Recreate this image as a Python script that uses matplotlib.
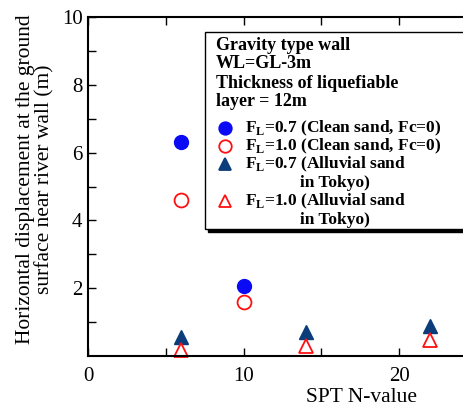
import matplotlib
matplotlib.use("Agg")
import matplotlib.pyplot as plt
from matplotlib.patches import Rectangle
from matplotlib.lines import Line2D

plt.rcParams['font.family'] = ['Liberation Serif', 'DejaVu Serif']
plt.rcParams['mathtext.fontset'] = 'custom'
plt.rcParams['mathtext.rm'] = 'Liberation Serif'
plt.rcParams['mathtext.bf'] = 'Liberation Serif:bold'

# data
clean_x = [6, 10]
clean_fl07 = [6.31, 2.06]
clean_fl10 = [4.60, 1.59]
tokyo_x = [6, 14, 22]
tokyo_fl07 = [0.56, 0.71, 0.88]
tokyo_fl10 = [0.18, 0.30, 0.47]
x_ticks = [0, 10, 20]
y_ticks = [2, 4, 6, 8, 10]

W, H = 464, 408
fig = plt.figure(figsize=(W/100, H/100), dpi=100)
ax_l, ax_r, ax_b, ax_t = 88, 634, 356, 17
ax = fig.add_axes([ax_l/W, 1-ax_b/H, (ax_r-ax_l)/W, (ax_b-ax_t)/H])
ax.set_xlim(0, 35.1)
ax.set_ylim(0, 10)

def fx(x): return x / W
def fy(y): return 1 - y / H

blue = '#0a0af5'
navy = '#0a3d7a'
red = '#ff1010'
ms = 10
ax.plot(clean_x, clean_fl07, 'o', color=blue, ms=ms, mec=blue, clip_on=False)
ax.plot(clean_x, clean_fl10, 'o', mfc='none', mec=red, ms=ms, mew=1.3, clip_on=False)
ax.plot(tokyo_x, tokyo_fl07, '^', color=navy, ms=ms, clip_on=False)
ax.plot(tokyo_x, tokyo_fl10, '^', mfc='none', mec=red, ms=ms, mew=1.3, clip_on=False)

ax.set_yticks(y_ticks)
ax.set_yticks([1, 3, 5, 7, 9], minor=True)
ax.set_xticks(x_ticks)
ax.set_xticks([5, 15, 25], minor=True)
ax.tick_params(which='both', direction='in', top=True, right=True, length=6, width=1,
               labelsize=15)
ax.tick_params(axis='x', pad=8)
ax.tick_params(axis='y', pad=4)
for s in ax.spines.values():
    s.set_linewidth(1.5)

fig.text(fx(35), fy(179), 'Horizontal displacement at the ground\nsurface near river wall (m)',
         fontsize=15.5, rotation=90, ha='center', va='center', multialignment='center',
         linespacing=1.0)
fig.text(fx(361), fy(397), 'SPT N-value', fontsize=15.5, ha='center', va='center')

bx0, by0, bx1, by1 = 205, 32, 480, 229
shadow = Rectangle((fx(bx0+3), fy(by1+3)), fx(bx1-bx0), (by1-by0)/H,
                   transform=fig.transFigure, facecolor='black', edgecolor='black', zorder=5)
box = Rectangle((fx(bx0), fy(by1)), fx(bx1-bx0), (by1-by0)/H,
                transform=fig.transFigure, facecolor='white', edgecolor='black', lw=1.0, zorder=6)
fig.patches.extend([shadow, box])

fs = 12.5
for txt, y in [('Gravity type wall', 46), ('WL=GL-3m', 64),
               ('Thickness of liquefiable', 83), ('layer = 12m', 101)]:
    fig.text(fx(216), fy(y), txt, fontsize=13, fontweight='bold', va='center', ha='left', zorder=7)

entries = [
    ('o', blue, blue, r'F$_\mathbf{L}$=0.7 (Clean sand, Fc=0)', 128),
    ('o', 'none', red, r'F$_\mathbf{L}$=1.0 (Clean sand, Fc=0)', 146),
    ('^', navy, navy, r'F$_\mathbf{L}$=0.7 (Alluvial sand', 164),
    ('^', 'none', red, r'F$_\mathbf{L}$=1.0 (Alluvial sand', 201),
]
for m, fc, ec, txt, y in entries:
    ln = Line2D([fx(225)], [fy(y)], marker=m, ms=9, mfc=fc, mec=ec, mew=1.3, ls='none',
                transform=fig.transFigure, zorder=7)
    fig.lines.append(ln)
    fig.text(fx(245), fy(y), txt, fontsize=fs, fontweight='bold', va='center', ha='left', zorder=7)
for y in (183, 220):
    fig.text(fx(300), fy(y), 'in Tokyo)', fontsize=fs, fontweight='bold', va='center', ha='left', zorder=7)

fig.savefig('out.png', dpi=100)
